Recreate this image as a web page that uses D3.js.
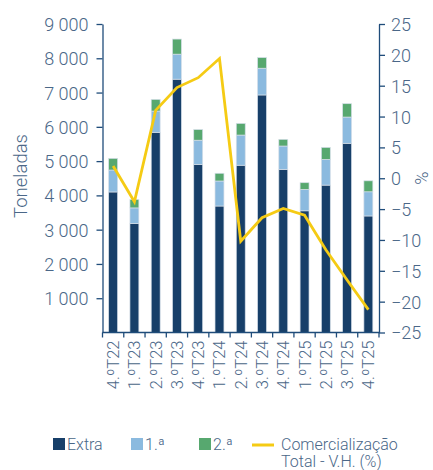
<!DOCTYPE html>
<html>
<head>
<meta charset="utf-8">
<script src="https://d3js.org/d3.v7.min.js"></script>
<style>
  body { margin: 0; background: #fff; }
  text { font-family: Roboto, "Open Sans", sans-serif; font-weight: 300; fill: #4a6788; }
</style>
</head>
<body>
<script>
var quarters = ["4.ºT22", "1.ºT23", "2.ºT23", "3.ºT23", "4.ºT23", "1.ºT24", "2.ºT24",
                "3.ºT24", "4.ºT24", "1.ºT25", "2.ºT25", "3.ºT25", "4.ºT25"];
var extra    = [4100, 3180, 5840, 7390, 4900, 3690, 4880, 6930, 4760, 3550, 4300, 5520, 3400];
var primeira = [640, 455, 620, 730, 710, 730, 880, 780, 680, 625, 750, 765, 705];
var segunda  = [340, 245, 340, 440, 310, 225, 340, 310, 195, 195, 350, 390, 320];
var comercializacao = [2.0, -3.8, 11.0, 14.7, 16.3, 19.4, -10.2, -6.4, -4.9, -6.0, -11.6, -16.5, -21.3];
var leftTicks = [1000, 2000, 3000, 4000, 5000, 6000, 7000, 8000, 9000];
var rightTicks = [-25, -20, -15, -10, -5, 0, 5, 10, 15, 20, 25];

var width = 433, height = 470;
var plotLeft = 102.5, plotRight = 379, plotTop = 24, plotBottom = 332.5;
var axisColor = "#1f4c7a";

var svg = d3.select("body").append("svg")
    .attr("width", width)
    .attr("height", height);

var x = d3.scaleBand().domain(quarters).range([plotLeft, plotRight]).paddingInner(0.58).paddingOuter(0.29);
var y = d3.scaleLinear().domain([0, 9000]).range([plotBottom, plotTop]);
var y2 = d3.scaleLinear().domain([-25, 25]).range([plotBottom, plotTop]);

var fmt = d3.formatLocale({decimal: ",", thousands: " ", grouping: [3], currency: ["", ""]}).format(",");

// stacked bars
var rows = quarters.map(function(q, i) {
    return {q: q, extra: extra[i], primeira: primeira[i], segunda: segunda[i]};
});
var stack = d3.stack().keys(["extra", "primeira", "segunda"])(rows);
var colors = {extra: "#173f69", primeira: "#8bbadf", segunda: "#57a86f"};

svg.append("g").selectAll("g")
    .data(stack)
    .enter().append("g")
    .attr("fill", function(d) { return colors[d.key]; })
    .selectAll("rect")
    .data(function(d) { return d; })
    .enter().append("rect")
    .attr("x", function(d) { return x(d.data.q); })
    .attr("width", x.bandwidth())
    .attr("y", function(d) { return y(d[1]); })
    .attr("height", function(d) { return y(d[0]) - y(d[1]); })
    .attr("stroke", "#d5dee8")
    .attr("stroke-width", 0.7);

// line
var line = d3.line()
    .x(function(d, i) { return x(quarters[i]) + x.bandwidth() / 2; })
    .y(function(d) { return y2(d); });

svg.append("path")
    .datum(comercializacao)
    .attr("d", line)
    .attr("fill", "none")
    .attr("stroke", "#f5cb14")
    .attr("stroke-width", 2.8)
    .attr("stroke-linejoin", "miter");

// left axis
var gl = svg.append("g")
    .attr("transform", "translate(" + plotLeft + ",0)")
    .call(d3.axisLeft(y).tickValues(leftTicks).tickFormat(fmt).tickSize(6).tickPadding(8).tickSizeOuter(0));
gl.select(".domain").attr("stroke", axisColor).attr("stroke-width", 1.3);
gl.selectAll(".tick line").attr("stroke", axisColor).attr("stroke-width", 1.3);
gl.selectAll(".tick text").attr("font-size", "18px").attr("fill", "#4a6788").attr("dy", "0.36em");

// right axis
var gr = svg.append("g")
    .attr("transform", "translate(" + plotRight + ",0)")
    .call(d3.axisRight(y2).tickValues(rightTicks).tickSize(6).tickPadding(6).tickSizeOuter(0));
gr.select(".domain").attr("stroke", axisColor).attr("stroke-width", 1.3);
gr.selectAll(".tick line").attr("stroke", axisColor).attr("stroke-width", 1.3);
gr.selectAll(".tick text").attr("font-size", "18px").attr("fill", "#4a6788").attr("dy", "0.36em");

// bottom axis: ticks at band boundaries, labels rotated
var gb = svg.append("g").attr("transform", "translate(0," + plotBottom + ")");
gb.append("line").attr("x1", plotLeft).attr("x2", plotRight).attr("stroke", axisColor).attr("stroke-width", 1.3);
gb.selectAll(".bt")
    .data(d3.range(quarters.length + 1))
    .enter().append("line")
    .attr("x1", function(i) { return plotLeft + i * x.step(); })
    .attr("x2", function(i) { return plotLeft + i * x.step(); })
    .attr("y1", 0).attr("y2", 5)
    .attr("stroke", axisColor).attr("stroke-width", 1.3);
gb.selectAll(".lbl")
    .data(quarters)
    .enter().append("text")
    .attr("transform", function(d) {
        return "translate(" + (x(d) + x.bandwidth() / 2) + ",8) rotate(-90)";
    })
    .attr("text-anchor", "end")
    .attr("dy", "0.36em")
    .attr("font-size", "16.5px")
    .text(function(d) { return d; });

// axis titles
svg.append("text")
    .attr("transform", "translate(27,176) rotate(-90)")
    .attr("text-anchor", "middle")
    .attr("font-size", "18.5px")
    .text("Toneladas");
svg.append("text")
    .attr("transform", "translate(428,178) rotate(-90)")
    .attr("text-anchor", "middle")
    .attr("font-size", "18px")
    .text("%");

// legend
var legend = [
    {label: "Extra", color: colors.extra, x: 53},
    {label: "1.ª", color: colors.primeira, x: 131},
    {label: "2.ª", color: colors.segunda, x: 199}
];
var lg = svg.append("g");
legend.forEach(function(d) {
    lg.append("rect").attr("x", d.x).attr("y", 438).attr("width", 12).attr("height", 12).attr("fill", d.color);
    lg.append("text").attr("x", d.x + 14).attr("y", 450).attr("font-size", "16px").text(d.label);
});
lg.append("line").attr("x1", 252).attr("x2", 274).attr("y1", 445).attr("y2", 445)
    .attr("stroke", "#f5cb14").attr("stroke-width", 3);
lg.append("text").attr("x", 281).attr("y", 450).attr("font-size", "16px").text("Comercialização");
lg.append("text").attr("x", 281).attr("y", 467).attr("font-size", "16px").text("Total - V.H. (%)");
</script>
</body>
</html>
